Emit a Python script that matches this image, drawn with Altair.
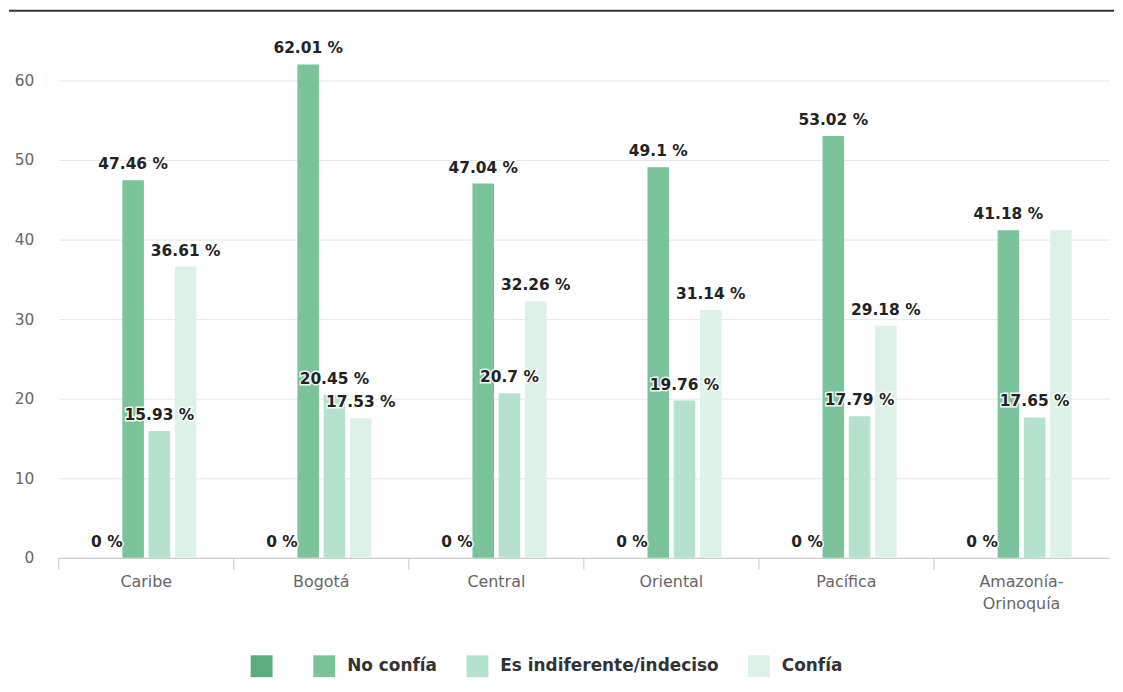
import altair as alt
import pandas as pd

regions = ["Caribe", "Bogotá", "Central", "Oriental", "Pacífica", "Amazonía-Orinoquía"]
series = ["s0", "No confía", "Es indiferente/indeciso", "Confía"]
colors = ["#5aae7c", "#7ac39b", "#b5e2cc", "#dcf2e8"]

s0_vals = [0, 0, 0, 0, 0, 0]
no_confia = [47.46, 62.01, 47.04, 49.1, 53.02, 41.18]
indiferente = [15.93, 20.45, 20.7, 19.76, 17.79, 17.65]
confia = [36.61, 17.53, 32.26, 31.14, 29.18, 41.17]
hidden_labels = [("Amazonía-Orinoquía", "Confía")]

rows = []
for s, vals in zip(series, [s0_vals, no_confia, indiferente, confia]):
    for r, v in zip(regions, vals):
        rows.append({
            "region": r,
            "series": s,
            "value": v,
            "label": f"{v:g} %",
            "show": (r, s) not in hidden_labels,
        })
df = pd.DataFrame(rows)

W, H = 1056, 520
STEP = W / len(regions)

x_enc = alt.X(
    "region:N",
    sort=regions,
    scale=alt.Scale(paddingInner=0.4, paddingOuter=0.2),
    axis=alt.Axis(
        title=None, labelAngle=0, ticks=False, grid=False,
        domainColor="#c8c8c8", labelColor="#666666",
        labelFont="DejaVu Sans", labelFontSize=16, labelPadding=16,
        labelLineHeight=22, labelLimit=300,
        labelExpr="datum.label == 'Amazonía-Orinoquía' ? ['Amazonía-', 'Orinoquía'] : datum.label",
    ),
)
xo_enc = alt.XOffset(
    "series:N", sort=series,
    scale=alt.Scale(domain=series, paddingInner=0.18, paddingOuter=0.09),
)
y_enc = alt.Y(
    "value:Q",
    scale=alt.Scale(domain=[0, 65], nice=False),
    axis=alt.Axis(
        title=None, values=[0, 10, 20, 30, 40, 50, 60], domain=False, ticks=False,
        gridColor="#e6e6e6", labelColor="#666666", labelFont="DejaVu Sans",
        labelFontSize=15.5, labelPadding=25,
    ),
)

base = alt.Chart(df)

bars = base.mark_bar().encode(
    x=x_enc,
    xOffset=xo_enc,
    y=y_enc,
    color=alt.Color(
        "series:N", sort=series,
        scale=alt.Scale(domain=series, range=colors),
        legend=alt.Legend(
            orient="none", legendX=193, legendY=618, direction="horizontal",
            title=None, symbolType="square", symbolSize=484, symbolStrokeWidth=0,
            symbolOpacity=1, labelFont="DejaVu Sans", labelFontWeight="bold",
            labelFontSize=17, labelColor="#333333", labelOffset=12,
            columnPadding=29, padding=0, labelLimit=400,
            labelExpr="datum.label == 's0' ? '' : datum.label",
        ),
    ),
)

labels_df = base.transform_filter("datum.show")

halo = labels_df.mark_text(
    dy=-11, baseline="alphabetic", font="DejaVu Sans", fontWeight="bold",
    fontSize=15.5, stroke="white", strokeWidth=3, strokeOpacity=0.9, fill="white",
).encode(x=x_enc, xOffset=xo_enc, y=y_enc, text="label:N")

text = labels_df.mark_text(
    dy=-11, baseline="alphabetic", font="DejaVu Sans", fontWeight="bold",
    fontSize=15.5, color="#222222",
).encode(x=x_enc, xOffset=xo_enc, y=y_enc, text="label:N")

tick_df = pd.DataFrame({"region": regions})
ticks = alt.Chart(tick_df).mark_rule(
    color="#c8c8c8", strokeWidth=1, xOffset=-STEP / 2
).encode(
    x=x_enc,
    y=alt.value(H),
    y2=alt.value(H + 12),
)

top_rule = alt.Chart(pd.DataFrame({"a": [0]})).mark_rule(
    color="#333333", strokeWidth=2
).encode(x=alt.value(-50), x2=alt.value(W + 5), y=alt.value(-30))

chart = alt.layer(bars, halo, text, ticks, top_rule).properties(
    width=W, height=H,
    padding={"left": 0, "top": 0, "right": 0, "bottom": 0},
    background="white",
).configure_view(stroke=None)

chart.save("out.html", embed_options={"renderer": "svg", "actions": False})
